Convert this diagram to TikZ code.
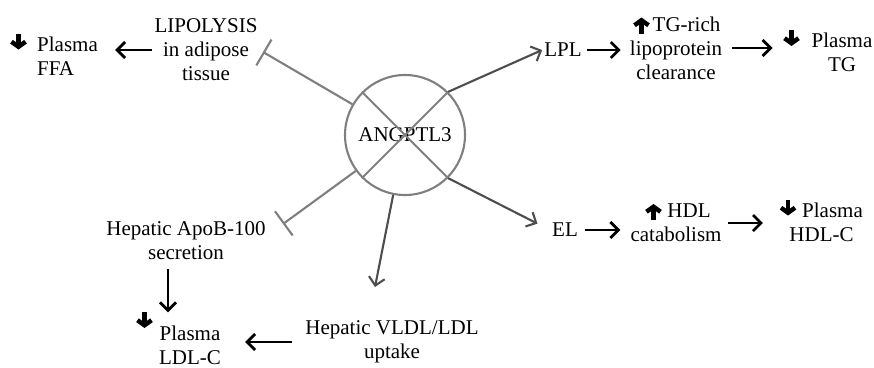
\documentclass[tikz,border=0pt]{standalone}
\usepackage{fontspec}
\setmainfont{Liberation Serif}
\usetikzlibrary{arrows.meta}

\definecolor{lngray}{HTML}{7F7F7F}
\definecolor{dkgray}{HTML}{4D4D4D}

\tikzset{
    txt/.style={align=center, inner sep=2pt},
    blk/.style={line width=2.8pt, -{Straight Barb[length=8pt,width=16pt]}},
    fat/.style={line width=4.5pt, -{Straight Barb[length=5pt,width=14pt]}},
    act/.style={draw=dkgray, line width=2.1pt, -{Straight Barb[length=8pt,width=16pt]}},
    inh/.style={draw=lngray, line width=2.1pt, -{Bar[width=30pt]}}
}

\begin{document}
\begin{tikzpicture}[x=1pt, y=-1pt, font=\fontsize{21}{24}\selectfont]
    \useasboundingbox (0,0) rectangle (874,367);

    \node[draw=lngray, line width=2.1pt, circle, minimum size=120pt, inner sep=0pt] (ang) at (405,135) {ANGPTL3};
    \draw[lngray, line width=2.1pt] (ang.45) -- (ang.225) (ang.135) -- (ang.-45);

    % left side
    \node[txt] (lipo) at (206,50) {LIPOLYSIS\\in adipose\\tissue};
    \node[txt, align=left, anchor=west] (ffa) at (35,56) {Plasma\\FFA};
    \coordinate (dnffa) at (18.5,41.5);

    \node[txt] (apob) at (186,241) {Hepatic ApoB-100\\secretion};
    \node[txt] (ldlc) at (190,345) {Plasma\\LDL-C};
    \coordinate (dnldl) at (144.5,320);
    \node[txt] (vldl) at (392,342) {Hepatic VLDL/LDL\\uptake};

    % right side
    \node[txt] (lpl) at (563,50) {LPL};
    \node[txt] (tgrich) at (676,48) {\hspace*{21pt}TG-rich\\lipoprotein\\clearance};
    \coordinate (uptg) at (641.5,25.5);
    \node[txt] (tg) at (842,52) {Plasma\\TG};
    \coordinate (dntg) at (791.5,38);

    \node[txt] (el) at (565,230) {EL};
    \node[txt] (hdl) at (676,223) {\hspace*{26pt}HDL\\catabolism};
    \coordinate (uphdl) at (653.5,212);
    \node[txt] (hdlc) at (821.5,222) {\hspace*{22pt}Plasma\\HDL-C};
    \coordinate (dnhdl) at (788,207.5);

    \coordinate (lipobar) at (263,52);
    \coordinate (apobbar) at (283,224);
    \coordinate (vldlend) at (375,287);

    % from ANGPTL3
    \draw[inh] (ang) -- (lipobar);
    \draw[inh] (ang) -- (apobbar);
    \draw[act] (ang.45) -- (lpl.west);
    \draw[act, shorten >=14pt] (ang.-45) -- (el.west);
    \draw[act] (ang) -- (vldlend);

    % up / down marks
    \draw[fat] ([yshift=8pt]dnffa) -- ([yshift=-8pt]dnffa);
    \draw[fat] ([yshift=8pt]dntg) -- ([yshift=-8pt]dntg);
    \draw[fat] ([yshift=8pt]dnhdl) -- ([yshift=-8pt]dnhdl);
    \draw[fat] ([yshift=8pt]dnldl) -- ([yshift=-8pt]dnldl);
    \draw[fat] ([yshift=-8pt]uptg) -- ([yshift=8pt]uptg);
    \draw[fat] ([yshift=-8pt]uphdl) -- ([yshift=8pt]uphdl);

    % downstream
    \draw[blk, shorten >=15pt] (lipo.west) -- (lipo.west -| ffa.east);
    \draw[blk, shorten <=3pt, shorten >=7pt] (lpl.east) -- (lpl.east -| tgrich.west);
    \draw[blk, shorten <=8pt, shorten >=19pt] (tgrich.east) -- (tgrich.east -| dntg);
    \draw[blk, shorten <=5pt, shorten >=8pt] (el.east) -- (el.east -| hdl.west);
    \draw[blk, shorten <=4pt, shorten >=15pt] (hdl.east) -- (hdl.east -| hdlc.west);
    \draw[blk, shorten <=11pt, shorten >=22pt] (vldl.west) -- (vldl.west -| ldlc.east);
    \draw[blk, shorten <=7pt, shorten >=11pt] ([xshift=-18pt]apob.south) -- ([xshift=-18pt]apob.south |- ldlc.north);
\end{tikzpicture}
\end{document}
